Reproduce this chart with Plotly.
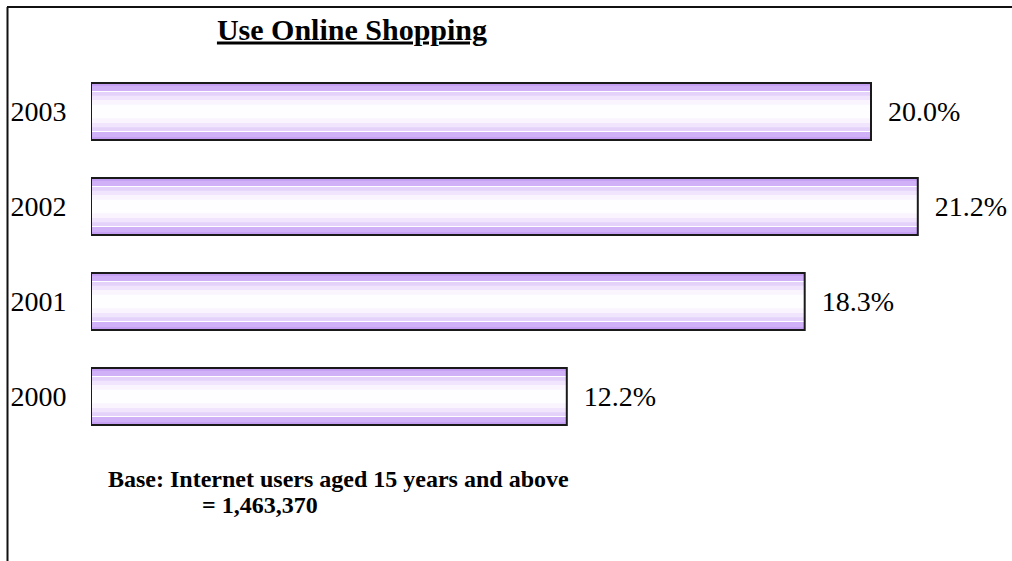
import plotly.graph_objects as go

years = ["2000", "2001", "2002", "2003"]
values = [12.2, 18.3, 21.2, 20.0]
title_text = "Use Online Shopping"
base_line1 = "Base: Internet users aged 15 years and above"
base_line2 = "= 1,463,370"

W, H = 1012, 561
ml, mr, mt, mb = 91, 10, 64, 117
pw, ph = W - ml - mr, H - mt - mb
x_max = pw / 39.0

def px_x(px):
    return (px - ml) / pw

def px_y(py):
    return (H - mb - py) / ph

serif = "Liberation Serif, Times New Roman, serif"

fig = go.Figure()

# layered bars imitating the lavender gradient fill
layers = [
    (0.60, "#c49ef3"),
    (0.54, "#d0b0f6"),
    (0.43, "#ffffff"),
    (0.41, "#e5d2fa"),
    (0.33, "#f0e5fc"),
    (0.24, "#f9f4fe"),
    (0.14, "#fefdff"),
]
for w, c in layers:
    fig.add_trace(go.Bar(
        y=years, x=values, orientation="h", width=w,
        marker=dict(color=c, line=dict(width=0)),
        hoverinfo="skip", showlegend=False,
    ))
# outline + value labels
fig.add_trace(go.Bar(
    y=years, x=values, orientation="h", width=0.60,
    marker=dict(color="rgba(0,0,0,0)", line=dict(color="#1a1a1a", width=2)),
    text=[f"  {v:.1f}%" for v in values], textposition="outside",
    constraintext="none", cliponaxis=False,
    textfont=dict(family=serif, size=28, color="#000000"),
    showlegend=False,
))

fig.add_annotation(
    x=px_x(106), y=px_y(479), xref="paper", yref="paper", text=f"<b>{base_line1}</b>",
    showarrow=False, xanchor="left", yanchor="middle",
    font=dict(family=serif, size=24, color="#000000"),
)
fig.add_annotation(
    x=px_x(200), y=px_y(505), xref="paper", yref="paper", text=f"<b>{base_line2}</b>",
    showarrow=False, xanchor="left", yanchor="middle",
    font=dict(family=serif, size=24, color="#000000"),
)

# frame lines (top and left)
fig.add_shape(type="line", xref="paper", yref="paper",
              x0=px_x(7), x1=px_x(1012), y0=px_y(7), y1=px_y(7),
              line=dict(color="#111111", width=2))
fig.add_shape(type="line", xref="paper", yref="paper",
              x0=px_x(7.5), x1=px_x(7.5), y0=px_y(7), y1=px_y(561),
              line=dict(color="#111111", width=2))

fig.update_layout(
    width=W, height=H,
    margin=dict(l=ml, r=mr, t=mt, b=mb, autoexpand=False),
    paper_bgcolor="white", plot_bgcolor="white",
    barmode="overlay",
    title=dict(text=f"<b><u>{title_text}</u></b>", xref="paper", x=px_x(352), xanchor="center",
               yref="container", y=1 - 29 / H, yanchor="middle",
               font=dict(family=serif, size=30, color="#000000")),
    xaxis=dict(range=[0, x_max], showgrid=False, zeroline=False, showline=False,
               showticklabels=False, ticks="", fixedrange=True),
    yaxis=dict(range=[-0.5, 3.5], showgrid=False, zeroline=False, showline=False,
               ticks="outside", ticklen=18, tickcolor="rgba(0,0,0,0)",
               tickfont=dict(family=serif, size=28, color="#000000"), fixedrange=True),
)

fig.write_html("out.html", config={"displayModeBar": False},
               post_script="document.body.style.margin='0px';")
